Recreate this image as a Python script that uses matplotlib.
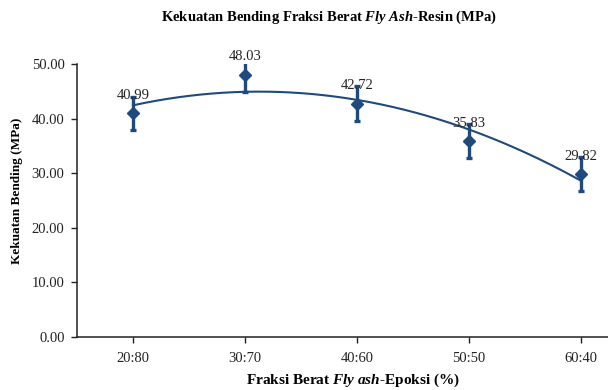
import numpy as np
import matplotlib
matplotlib.use("Agg")
import matplotlib.pyplot as plt

# data
fraksi = ["20:80", "30:70", "40:60", "50:50", "60:40"]
kekuatan = [40.99, 48.03, 42.72, 35.83, 29.82]
err = [3.05, 3.1, 3.2, 3.1, 3.1]

plt.rcParams["font.family"] = ["Liberation Serif", "DejaVu Serif"]
plt.rcParams["mathtext.fontset"] = "custom"
plt.rcParams["mathtext.rm"] = "Liberation Serif"
plt.rcParams["mathtext.it"] = "Liberation Serif:italic"
plt.rcParams["mathtext.bf"] = "Liberation Serif:bold"
plt.rcParams["mathtext.bfit"] = "Liberation Serif:italic:bold"
warna = "#1f4a7e"

fig = plt.figure(figsize=(6.08, 3.90), dpi=100)
ax = fig.add_axes([77 / 608, 53 / 390, 560 / 608, 273 / 390])

x = np.arange(len(fraksi))
ax.errorbar(x, kekuatan, yerr=err, fmt="D", color=warna, ms=6.5,
            elinewidth=2.4, capsize=2.5, capthick=2.4, zorder=3)

# polynomial (order 2) trendline like Excel
coef = np.polyfit(x, kekuatan, 2)
xs = np.linspace(0, len(fraksi) - 1, 200)
ax.plot(xs, np.polyval(coef, xs), color=warna, lw=1.5, zorder=2)

for xi, yi in zip(x, kekuatan):
    ax.annotate(f"{yi:.2f}", (xi, yi), xytext=(0, 13), textcoords="offset points",
                ha="center", va="center", fontsize=10.5, color="#222222",
                annotation_clip=False)

ax.set_xlim(-0.5, len(fraksi) - 0.5)
ax.set_ylim(0, 50)
ax.set_yticks(np.arange(0, 51, 10))
ax.set_yticklabels([f"{v:.2f}" for v in np.arange(0, 51, 10)])
ax.set_xticks(x)
ax.set_xticklabels(fraksi)
ax.tick_params(axis="both", direction="out", length=4, width=1, labelsize=10.5,
               colors="#222222", pad=5)
ax.tick_params(axis="x", pad=7)
for s in ["top", "right"]:
    ax.spines[s].set_visible(False)
for s in ["left", "bottom"]:
    ax.spines[s].set_linewidth(1.1)
    ax.spines[s].set_color("#222222")

fig.text(329 / 608, 1 - 17 / 390,
         r"Kekuatan Bending Fraksi Berat $\mathbfit{Fly\ Ash}$-Resin (MPa)",
         ha="center", va="center", fontsize=10.5, fontweight="bold")
fig.text(353 / 608, 1 - 380 / 390,
         r"Fraksi Berat $\mathbfit{Fly\ ash}$-Epoksi (%)",
         ha="center", va="center", fontsize=11, fontweight="bold")
fig.text(17 / 608, 1 - 191 / 390, "Kekuatan Bending (MPa)", rotation=90,
         ha="center", va="center", fontsize=9.5, fontweight="bold")

fig.savefig("out.png", dpi=100)
